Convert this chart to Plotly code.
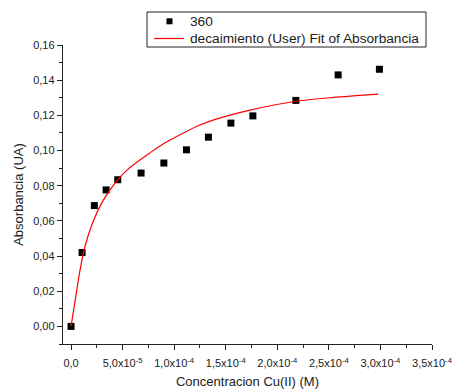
import plotly.graph_objects as go

# Measured absorbance at 360 nm vs Cu(II) concentration
conc = [0, 1.07e-5, 2.26e-5, 3.40e-5, 4.53e-5, 6.79e-5, 9.00e-5, 1.119e-4,
        1.332e-4, 1.55e-4, 1.763e-4, 2.18e-4, 2.59e-4, 2.99e-4]
absorb = [0, 0.042, 0.0687, 0.0776, 0.0834, 0.0872, 0.0929, 0.1004,
          0.1076, 0.1156, 0.1197, 0.1285, 0.143, 0.1462]

# Fitted curve ("decaimiento" user function)
fit_x = [0, 5.1e-6, 8.4e-6, 1.33e-5, 2.13e-5, 3.1e-5, 4.4e-5, 5.5e-5, 6.67e-5,
         7.67e-5, 9.0e-5, 1.09e-4, 1.25e-4, 1.414e-4, 1.737e-4, 2.18e-4, 2.545e-4, 2.98e-4]
fit_y = [0, 0.0189, 0.031, 0.045, 0.0595, 0.0715, 0.0825, 0.0893, 0.0946,
         0.0988, 0.1040, 0.1100, 0.1145, 0.1180, 0.1230, 0.1280, 0.1302, 0.1321]

legend_labels = ["360", "decaimiento (User) Fit of Absorbancia"]

x_tickvals = [0, 5e-5, 1e-4, 1.5e-4, 2e-4, 2.5e-4, 3e-4, 3.5e-4]
x_ticktext = ["0,0", "5,0x10<sup>-5</sup>", "1,0x10<sup>-4</sup>", "1,5x10<sup>-4</sup>",
              "2,0x10<sup>-4</sup>", "2,5x10<sup>-4</sup>", "3,0x10<sup>-4</sup>",
              "3,5x10<sup>-4</sup>"]
y_tickvals = [0, 0.02, 0.04, 0.06, 0.08, 0.10, 0.12, 0.14, 0.16]
y_ticktext = ["0,00", "0,02", "0,04", "0,06", "0,08", "0,10", "0,12", "0,14", "0,16"]

FONT = "Liberation Sans, Arial, sans-serif"
W, H = 453, 390
ML, MR, MT, MB = 63, 21, 45, 46
PW, PH = W - ML - MR, H - MT - MB


def px(x):
    """Page x pixel -> paper coordinate."""
    return (x - ML) / PW


def py(y):
    """Page y pixel -> paper coordinate."""
    return (H - MB - y) / PH


fig = go.Figure()
fig.add_trace(go.Scatter(
    x=conc, y=absorb, mode="markers", name=legend_labels[0],
    marker=dict(symbol="square", size=7, color="black"),
))
fig.add_trace(go.Scatter(
    x=fit_x, y=fit_y, mode="lines", name=legend_labels[1],
    line=dict(color="red", width=1.2, shape="spline", smoothing=0.8),
))

axis_common = dict(
    showgrid=False, zeroline=False, showline=True, linecolor="#222",
    linewidth=1.4, ticks="outside", ticklen=5, tickwidth=1.2, tickcolor="#222",
    tickfont=dict(family=FONT, size=11, color="#222"),
    tickmode="array", automargin=False,
)

fig.update_xaxes(
    **axis_common,
    range=[-7.8e-6, 3.5e-4],
    tickvals=x_tickvals, ticktext=x_ticktext,
    ticklabelstandoff=4,
    minor=dict(ticks="outside", ticklen=3, tickwidth=1.2, tickcolor="#222",
               tick0=0, dtick=2.5e-5, showgrid=False),
    title=dict(text="Concentracion Cu(II) (M)", font=dict(family=FONT, size=13, color="#222"),
               standoff=8),
)
fig.update_yaxes(
    **axis_common,
    range=[-0.01, 0.16],
    tickvals=y_tickvals, ticktext=y_ticktext,
    minor=dict(ticks="outside", ticklen=3, tickwidth=1.2, tickcolor="#222",
               tick0=0, dtick=0.01, showgrid=False),
    title=dict(text="Absorbancia (UA)", font=dict(family=FONT, size=13, color="#222"),
               standoff=6),
)

# Compact boxed legend
shapes = [
    dict(type="rect", xref="paper", yref="paper",
         x0=px(147), x1=px(426), y0=py(47), y1=py(12),
         line=dict(color="#222", width=1), fillcolor="white", layer="above"),
    dict(type="rect", xref="paper", yref="paper",
         x0=px(166.5), x1=px(172.5), y0=py(24.3), y1=py(18.3),
         line=dict(width=0), fillcolor="black", layer="above"),
    dict(type="line", xref="paper", yref="paper",
         x0=px(154), x1=px(184), y0=py(38.5), y1=py(38.5),
         line=dict(color="red", width=1.2), layer="above"),
]
annotations = [
    dict(xref="paper", yref="paper", x=px(188), y=py(21.3), text=legend_labels[0],
         xanchor="left", yanchor="middle", showarrow=False,
         font=dict(family=FONT, size=13.7, color="#222")),
    dict(xref="paper", yref="paper", x=px(188), y=py(38.3), text=legend_labels[1],
         xanchor="left", yanchor="middle", showarrow=False,
         font=dict(family=FONT, size=13.7, color="#222")),
]

fig.update_layout(
    width=W, height=H,
    margin=dict(l=ML, r=MR, t=MT, b=MB),
    plot_bgcolor="white", paper_bgcolor="white",
    font=dict(family=FONT, size=13, color="#222"),
    showlegend=False,
    shapes=shapes,
    annotations=annotations,
)

fig.write_html("out.html")
